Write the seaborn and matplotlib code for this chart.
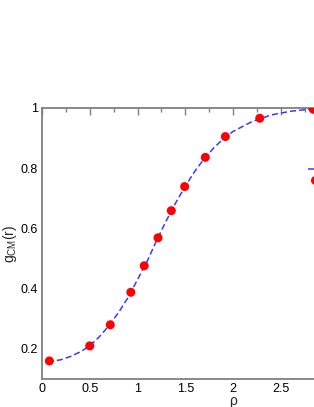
import numpy as np
import pandas as pd
import seaborn as sns
import matplotlib
matplotlib.use("Agg")
import matplotlib.pyplot as plt
from matplotlib.ticker import MultipleLocator
from matplotlib.lines import Line2D

# data
rho_pts = [0.077, 0.50, 0.715, 0.93, 1.07, 1.215, 1.354, 1.494, 1.71, 1.92, 2.28, 2.84]
g_pts = [0.160, 0.210, 0.280, 0.388, 0.476, 0.569, 0.659, 0.739, 0.836, 0.905, 0.966, 0.996]

rho_curve = [0.06, 0.2, 0.3, 0.4, 0.5, 0.6, 0.7, 0.8, 0.9, 1.0, 1.1, 1.2, 1.3, 1.4,
             1.5, 1.6, 1.7, 1.8, 1.9, 2.0, 2.2, 2.4, 2.6, 2.8, 3.0]
g_curve = [0.157, 0.164, 0.175, 0.190, 0.210, 0.240, 0.277, 0.320, 0.370, 0.430,
           0.490, 0.560, 0.625, 0.685, 0.740, 0.790, 0.832, 0.868, 0.898, 0.922,
           0.955, 0.977, 0.989, 0.996, 1.000]

x_ticks = [0, 0.5, 1, 1.5, 2, 2.5]
x_ticklabels = ["0", "0.5", "1", "1.5", "2", "2.5"]
y_ticks = [0.2, 0.4, 0.6, 0.8, 1.0]
y_ticklabels = ["0.2", "0.4", "0.6", "0.8", "1"]

sns.set_style("white")
plt.rcParams['font.family'] = ['Liberation Sans', 'DejaVu Sans']
plt.rcParams['mathtext.fontset'] = 'custom'
plt.rcParams['mathtext.rm'] = 'Liberation Sans'
plt.rcParams['mathtext.it'] = 'Liberation Sans'

fig = plt.figure(figsize=(3.14, 4.07), dpi=100)
W, H = 314, 407
x0, x1 = 42, 424
ytop, ybot = 108, 379
ax = fig.add_axes([x0 / W, (H - ybot) / H, (x1 - x0) / W, (ybot - ytop) / H])

curve = pd.DataFrame({"rho": rho_curve, "g": g_curve})
pts = pd.DataFrame({"rho": rho_pts, "g": g_pts})

line_col = "#3a3aff"
pt_col = "#ff0000"
sns.lineplot(data=curve, x="rho", y="g", ax=ax, color=line_col, lw=1.1,
             linestyle=(0, (4, 2)), zorder=2)
sns.scatterplot(data=pts, x="rho", y="g", ax=ax, color=pt_col, s=42,
                edgecolor="none", zorder=3)

ax.set_xlim(0, 4)
ax.set_ylim(0.1, 1.0)
ax.set_xticks(x_ticks)
ax.set_xticklabels(x_ticklabels)
ax.set_yticks(y_ticks)
ax.set_yticklabels(y_ticklabels)
ax.xaxis.set_minor_locator(MultipleLocator(0.25))
ax.yaxis.set_minor_locator(MultipleLocator(0.1))

spine_col = "#808080"
for s in ax.spines.values():
    s.set_color(spine_col)
    s.set_linewidth(1.3)
ax.tick_params(which="both", direction="in", top=True, right=True,
               color=spine_col, width=1.0, labelsize=9, labelcolor="black", pad=3)
ax.tick_params(which="major", length=5)
ax.tick_params(which="minor", length=3)

ax.set_xlabel("ρ", fontsize=10, labelpad=-1)
ax.set_ylabel(r"$\mathregular{g_{CM}(r)}$", fontsize=10, labelpad=1)

handles = [Line2D([], [], color=line_col, lw=1.1, linestyle=(0, (4, 2))),
           Line2D([], [], color=pt_col, marker="o", linestyle="", markersize=6.5,
                  markeredgewidth=0)]
leg = ax.legend(handles, [" ", " "], loc="upper left",
                bbox_to_anchor=((308 - x0) / (x1 - x0), 0.7915),
                frameon=False, fontsize=8, handlelength=1.3, borderpad=0,
                borderaxespad=0, labelspacing=0.1, handletextpad=0.5)

fig.savefig("out.png", dpi=100)
